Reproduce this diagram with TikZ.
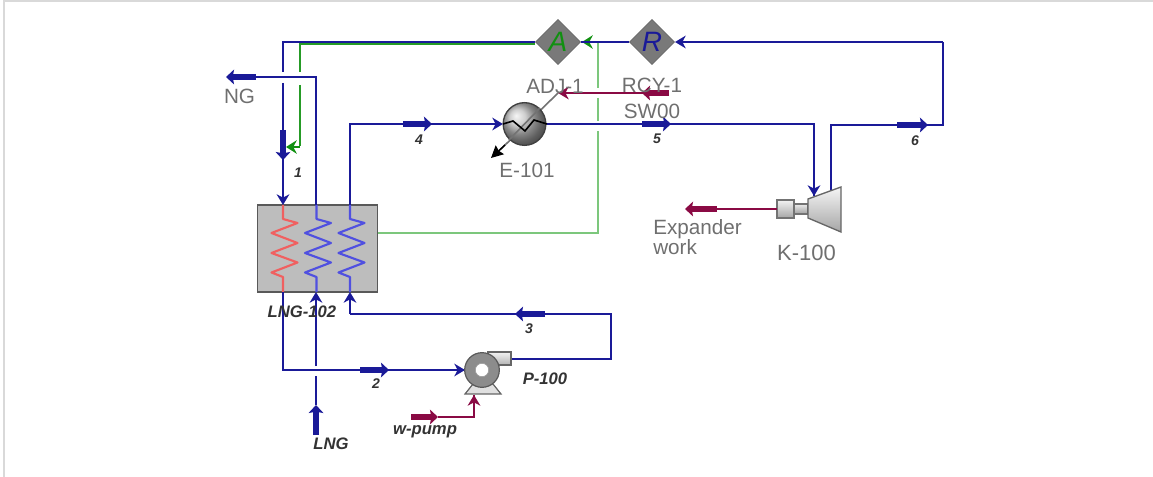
\documentclass[tikz,border=0pt]{standalone}
\usepackage{fontspec}
\setmainfont{Liberation Sans}
\usetikzlibrary{arrows.meta,shapes.geometric,calc}
\definecolor{sblue}{HTML}{1A1A98}
\definecolor{sgreen}{HTML}{7CC77C}
\definecolor{dgreen}{HTML}{109010}
\definecolor{swork}{HTML}{8A0A44}
\definecolor{hxgrey}{HTML}{BDBDBD}
\definecolor{lab}{HTML}{6F6F6F}
\definecolor{cred}{HTML}{F06060}
\definecolor{cblue}{HTML}{5050E0}
\tikzset{
  stream/.style={draw=sblue,line width=2.1pt,line join=miter},
  thinarrow/.style={stream,-{Stealth[length=8pt,width=9.5pt,inset=2.5pt]}},
  stub/.style={draw=sblue,line width=3.8pt,-{Stealth[length=6pt,width=11pt,inset=1pt]}},
  greenline/.style={draw=sgreen,line width=1.8pt},
  work/.style={draw=swork,line width=1.9pt},
  workarrow/.style={work,-{Stealth[length=8pt,width=9.5pt,inset=2.5pt]}},
  workstub/.style={draw=swork,line width=3.8pt,-{Stealth[length=6pt,width=11pt,inset=1pt]}},
  unitlab/.style={inner sep=0pt,text=lab,font=\fontsize{15.5}{15.5}\selectfont},
  streamlab/.style={inner sep=0pt,text=black!80,font=\fontsize{12.5}{13}\selectfont\bfseries\itshape},
  numlab/.style={inner sep=0pt,text=black!80,font=\fontsize{10.5}{11}\selectfont\bfseries\itshape},
  logic/.style={diamond,aspect=1,draw=gray!80!black,fill=gray!95!black,minimum width=34pt,minimum height=34pt,inner sep=0pt,font=\fontsize{21}{21}\selectfont\itshape},
  hxbox/.style={rectangle,draw=black!65,line width=1.3pt,fill=hxgrey,minimum width=90pt,minimum height=65pt,inner sep=0pt},
  ball/.style={circle,draw=black!75,line width=1pt,minimum size=32pt,inner sep=0pt,shading=ball,ball color=gray!50},
  coil/.style={line width=1.6pt,line join=round}
}
\newcommand{\hxcoil}[2]{%
  \draw[coil,#2] (#1,205) -- (#1,219) -- ++(14.5,4) -- ++(-26,10) -- ++(26,10) -- ++(-26,10) -- ++(26,9.5) -- ++(-26,10) -- ++(11.5,4.5) -- (#1,292);}
\begin{document}
\begin{tikzpicture}[x=0.75pt,y=-0.75pt]
\useasboundingbox (0,0) rectangle (1153,477);
\draw[draw=black!15,line width=.8pt] (1153,1) -- (4,1) -- (4,477);

% equipment
\node[hxbox] (hx) at (317.5,248.5) {};
\node[logic,text=dgreen] (adj) at (558,42) {A};
\node[logic,text=sblue] (rcy) at (652,42) {R};

% named points
\coordinate (nwcorner) at (283,42);
\coordinate (hxin1) at (283,205);
\coordinate (hxout1) at (283,292);
\coordinate (hxout2) at (316,205);
\coordinate (hxin2) at (316,292);
\coordinate (hxout3) at (350,205);
\coordinate (hxin3) at (350,292);
\coordinate (ngend) at (226,77);
\coordinate (ngcorner) at (316,77);
\coordinate (ngstub) at (256,77);
\coordinate (gap1a) at (283,72);
\coordinate (gap1b) at (283,83);
\coordinate (stub1a) at (283,130);
\coordinate (stub1b) at (283,160);
\coordinate (c4) at (350,124);
\coordinate (c5) at (814,124);
\coordinate (in5) at (814,196);
\coordinate (turb) at (831,190);
\coordinate (c6a) at (831,125);
\coordinate (c6b) at (943,125);
\coordinate (c6c) at (943,42);
\coordinate (c2) at (283,370);
\coordinate (lngend) at (316,435);
\coordinate (lngstub) at (316,405);
\coordinate (gapLa) at (316,376);
\coordinate (gapLb) at (316,366);
\coordinate (c3a) at (350,314);
\coordinate (c3b) at (611,314);
\coordinate (c3c) at (611,359);
\coordinate (pumpout) at (511,359);
\coordinate (pumpin) at (465,370);

% green adjust lines
\draw[greenline,draw=dgreen!80!sgreen] (535,44) -- (300,44) -- (300,72);
\draw[greenline,draw=dgreen!80!sgreen] (300,85) -- (300,146);
\draw[draw=dgreen,line width=1.6pt,-{Stealth[length=8pt,width=10pt,inset=2.5pt]}] (300,147) -- (286,147);
\draw[greenline] (598,42) -- (598,88);
\draw[greenline] (598,98) -- (598,121);
\draw[greenline] (598,131) -- (598,233) -- (hx.east |- 0,233);
\draw[draw=dgreen,line width=1.6pt,-{Stealth[length=8pt,width=10pt,inset=2.5pt]}] (598,42) -- (582,42);

% exchanger coils
\hxcoil{283}{draw=cred}
\hxcoil{316.5}{draw=cblue}
\hxcoil{350}{draw=cblue}

% streams
\draw[stream] (adj.west) -- (nwcorner) -- (gap1a);
\draw[stream] (gap1b) -- (stub1a);
\draw[thinarrow] (stub1a) -- (hxin1);
\draw[stub] (stub1a) -- (stub1b);

\draw[stream] (hxout2) -- (ngcorner) -- (ngstub);
\draw[stub] (ngstub) -- (ngend);

\draw[stream] (hxout3) -- (c4) -- (500,124);
\draw[thinarrow] (440,124) -- (503,124);
\draw[stub] (403,124) -- (432,124);

\draw[stream] (rcy.west) -- (adj.east);
\draw[stream] (c6c) -- (700,42);
\draw[thinarrow] (700,42) -- (675,42);

\draw[stream] (547,124) -- (c5) -- (in5);
\draw[stub] (642,124) -- (671,124);
\draw[thinarrow] (c5) -- (in5);
\draw[stream] (turb) -- (c6a) -- (c6b) -- (c6c);
\draw[stub] (897,125) -- (928,125);

\draw[stream] (hxout1) -- (c2) -- (pumpin);
\draw[stub] (360,370) -- (389,370);
\draw[thinarrow] (420,370) -- (pumpin);

\draw[stream] (lngstub) -- (gapLa);
\draw[thinarrow] (gapLb) -- (hxin2);
\draw[stub] (lngend) -- (lngstub);

\draw[stream] (pumpout) -- (c3c) -- (c3b) -- (c3a);
\draw[thinarrow] (c3a) -- (hxin3);
\draw[stub] (545,314) -- (515,314);

% cooler
\draw[draw=black!55,line width=1.2pt] (558,93) -- (500,150);
\draw[draw=black,line width=1.1pt,-{Stealth[length=9pt,width=9pt,inset=1pt]}] (505,145) -- (491,158);
\node[ball] (cooler) at (524.5,124) {};
\draw[draw=black!55,line width=1.2pt] (540,108) -- (509,140);
\draw[draw=black,line width=1.2pt] (503,124) -- (513,121) -- (525,131) -- (534,120) -- (547,124);
\coordinate (swend) at (558,93);
\coordinate (swstub) at (645,93);
\draw[workarrow] (swstub) -- (swend);
\draw[workstub] (669,93) -- (642,93);

% pump
\coordinate (pumpc) at (482,370);
\draw[draw=black!60,fill=black!12,line width=.9pt] (473,384) -- (493,384) -- (501,394) -- (465,394) -- cycle;
\shade[top color=gray!10,bottom color=gray!60,draw=black!60,line width=.9pt] (488,352) rectangle (511,365);
\node[circle,draw=black!65,fill=gray!90,line width=.9pt,minimum size=26pt,inner sep=0pt] (pump) at (pumpc) {};
\node[circle,fill=white,draw=black!40,line width=.4pt,minimum size=10pt,inner sep=0pt] (pumpeye) at (pumpc) {};
\coordinate (wa) at (411,417);
\coordinate (wb) at (438,417);
\coordinate (wc) at (474,417);
\coordinate (wd) at (474,395);
\draw[work] (wb) -- (wc) -- (wd);
\draw[workarrow] (wc) -- (wd);
\draw[workstub] (wa) -- (wb);

% expander
\shade[top color=gray!15,bottom color=gray!75,draw=black!55,line width=.8pt] (794,204) rectangle (808,214);
\shade[top color=gray!10,bottom color=gray!70,draw=black!55,line width=.8pt] (777,200) rectangle (794,218);
\shade[top color=gray!8,bottom color=gray!70,draw=black!60,line width=1pt] (808,199) -- (841,187) -- (841,232) -- (808,218) -- cycle;
\coordinate (shaft) at (777,209);
\coordinate (expstub) at (717,209);
\draw[work] (shaft) -- (expstub);
\draw[workstub] (expstub) -- (685,209);

% labels
\node[unitlab] (ngl) at (239.5,96) {NG};
\node[unitlab] (adjl) at (555,86) {ADJ-1};
\node[unitlab] (rcyl) at (652,85) {RCY-1};
\node[unitlab] (swl) at (652,111) {SW00};
\node[unitlab] (el) at (527,170) {E-101};
\node[unitlab,align=left,anchor=north west,font=\fontsize{15.5}{12.8}\selectfont] (expl) at (653,219) {Expander\\work};
\node[unitlab,font=\fontsize{16.5}{16.5}\selectfont] (kl) at (806.5,253) {K-100};
\node[streamlab] (hxl) at (302,312) {LNG-102};
\node[numlab] (s1) at (298,173) {1};
\node[numlab] (s2) at (376,384) {2};
\node[numlab] (s3) at (529,329) {3};
\node[numlab] (s4) at (419,140) {4};
\node[numlab] (s5) at (657,139) {5};
\node[numlab] (s6) at (915,141) {6};
\node[streamlab] (pl) at (545,379) {P-100};
\node[streamlab] (wl) at (425,432) {w-pump};
\node[streamlab] (lngl) at (331,444) {LNG};
\end{tikzpicture}
\end{document}
